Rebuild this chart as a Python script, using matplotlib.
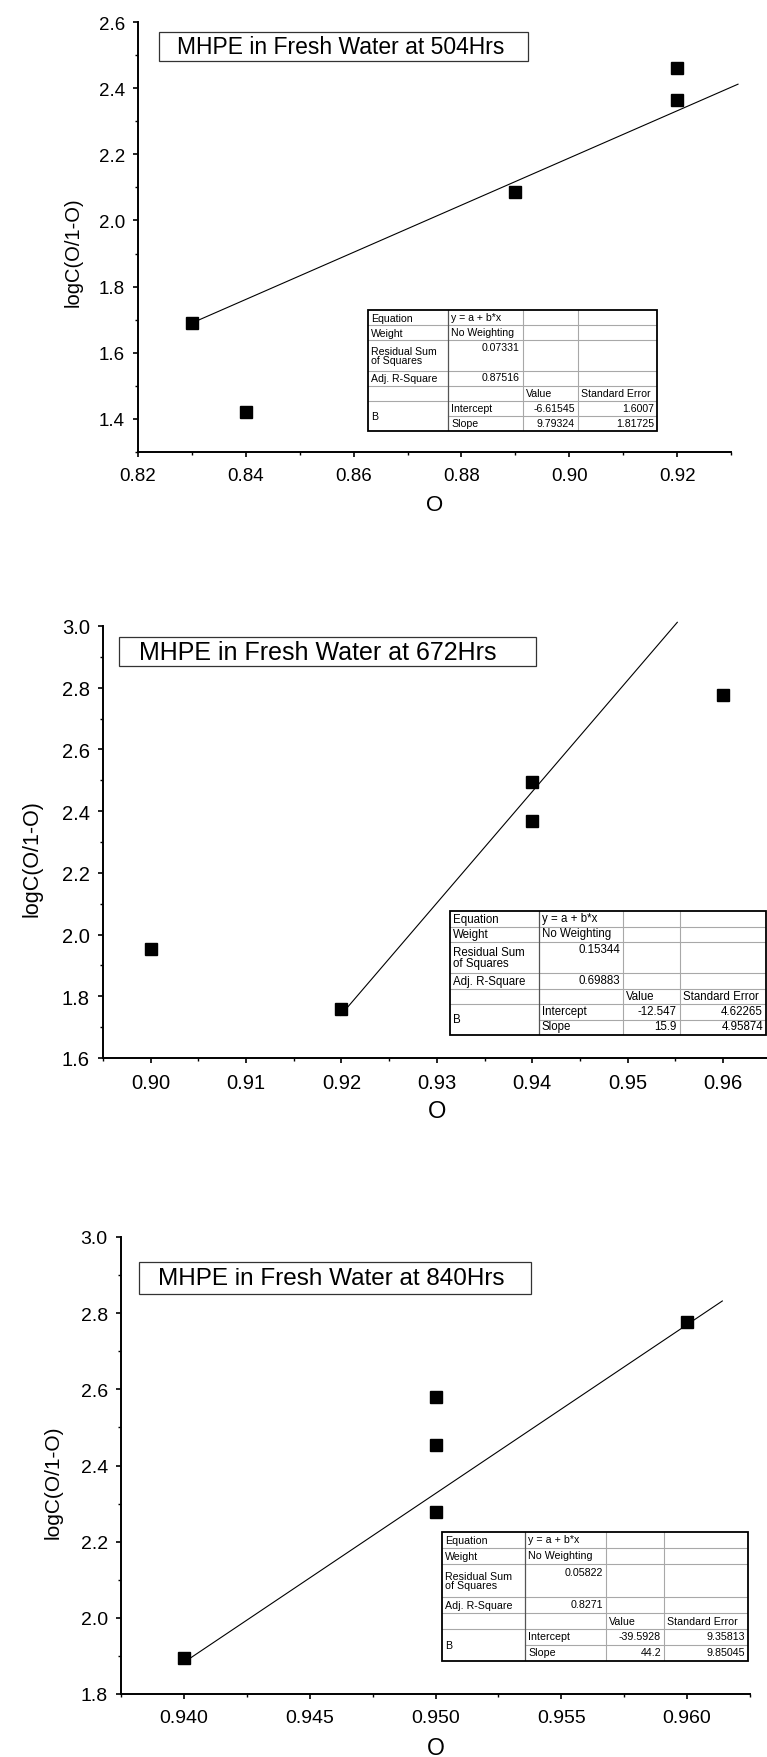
import matplotlib.pyplot as plt
from matplotlib.patches import Rectangle
from matplotlib.ticker import MultipleLocator, FormatStrFormatter

plt.rcParams['font.family'] = ['Liberation Sans', 'DejaVu Sans']

W, H = 767, 1758

# --- data ---
titles = ['MHPE in Fresh Water at 504Hrs',
          'MHPE in Fresh Water at 672Hrs',
          'MHPE in Fresh Water at 840Hrs']

x_504 = [0.83, 0.84, 0.89, 0.92, 0.92]
y_504 = [1.69, 1.42, 2.085, 2.46, 2.365]
fit_x_504 = [0.83, 0.9313]
fit_y_504 = [1.69, 2.412]

x_672 = [0.90, 0.92, 0.94, 0.94, 0.96]
y_672 = [1.953, 1.758, 2.494, 2.369, 2.778]
fit_x_672 = [0.9199, 0.9552]
fit_y_672 = [1.738, 3.012]

x_840 = [0.94, 0.95, 0.95, 0.95, 0.96]
y_840 = [1.894, 2.58, 2.455, 2.279, 2.778]
fit_x_840 = [0.940, 0.9614]
fit_y_840 = [1.883, 2.832]

# fit tables
row_names = ['Equation', 'Weight', 'Residual Sum\nof Squares', 'Adj. R-Square']
par_names = ['Intercept', 'Slope']
par_head = ['Value', 'Standard Error']
stats_504 = ['y = a + b*x', 'No Weighting', '0.07331', '0.87516']
stats_672 = ['y = a + b*x', 'No Weighting', '0.15344', '0.69883']
stats_840 = ['y = a + b*x', 'No Weighting', '0.05822', '0.8271']
pars_504 = [['-6.61545', '1.6007'], ['9.79324', '1.81725']]
pars_672 = [['-12.547', '4.62265'], ['15.9', '4.95874']]
pars_840 = [['-39.5928', '9.35813'], ['44.2', '9.85045']]


fig = plt.figure(figsize=(W / 100, H / 100), dpi=100)


def px_axes(x0, y0, x1, y1):
    return fig.add_axes([x0 / W, 1 - y1 / H, (x1 - x0) / W, (y1 - y0) / H])


def panel(rect, x, y, fx, fy, xlim, ylim, xmaj, xmin, xfmt, fs, title, box, tpos, tfs, ylab, xlab_y):
    ax = px_axes(*rect)
    ax.set_facecolor('none')
    ax.plot(fx, fy, color='black', lw=0.8, clip_on=False, zorder=2)
    ax.plot(x, y, 's', color='black', ms=8, clip_on=False, zorder=3)
    ax.set_xlim(*xlim)
    ax.set_ylim(*ylim)
    ax.xaxis.set_major_locator(MultipleLocator(xmaj))
    ax.xaxis.set_minor_locator(MultipleLocator(xmin))
    ax.yaxis.set_major_locator(MultipleLocator(0.2))
    ax.yaxis.set_minor_locator(MultipleLocator(0.1))
    ax.xaxis.set_major_formatter(FormatStrFormatter(xfmt))
    ax.yaxis.set_major_formatter(FormatStrFormatter('%.1f'))
    for s in ['top', 'right']:
        ax.spines[s].set_visible(False)
    for s in ['left', 'bottom']:
        ax.spines[s].set_linewidth(1.4)
    ax.tick_params(which='major', direction='out', length=3.5, width=1.2, labelsize=fs)
    ax.tick_params(which='minor', direction='out', length=2.5, width=1.0)
    ax.tick_params(axis='x', which='major', pad=7)
    ax.tick_params(axis='y', which='major', pad=6)
    ax.set_ylabel('logC(O/1-O)', fontsize=fs + 1)
    ax.yaxis.set_label_coords(ylab[0], ylab[1])
    ax.set_xlabel('O', fontsize=fs + 2.5)
    ax.xaxis.set_label_coords(0.5, xlab_y)
    ax.xaxis.label.set_verticalalignment('center')
    ax.yaxis.label.set_verticalalignment('center')

    bx0, by0, bx1, by1 = box
    fig.add_artist(Rectangle((bx0 / W, 1 - by1 / H), (bx1 - bx0) / W, (by1 - by0) / H,
                             transform=fig.transFigure, fill=False, ec='#333333', lw=0.9))
    fig.text(tpos[0] / W, 1 - tpos[1] / H, title, fontsize=tfs, ha='left', va='center')
    return ax


def fit_table(rect, cols, stats, pars, fs):
    x0, y0, x1, y1 = rect
    tax = px_axes(x0, y0, x1, y1)
    tax.set_xlim(x0, x1)
    tax.set_ylim(8, 0)
    tax.axis('off')
    c1, c2, c3 = cols
    tax.add_patch(Rectangle((x0, 0), x1 - x0, 8, fc='white', ec='none', zorder=0))
    grey = '#a8a8a8'
    for r in [1, 2, 4, 5, 6]:
        tax.plot([x0, x1], [r, r], color=grey, lw=0.8, zorder=1)
    tax.plot([c1, x1], [7, 7], color=grey, lw=0.8, zorder=1)
    for c in [c2, c3]:
        tax.plot([c, c], [0, 8], color=grey, lw=0.8, zorder=1)
    tax.plot([c1, c1], [0, 8], color='#555555', lw=0.9, zorder=1)
    tax.add_patch(Rectangle((x0, 0), x1 - x0, 8, fill=False, ec='black', lw=1.3,
                            zorder=3, clip_on=False))

    p = 3
    rows_y = [0.5, 1.5, 3.0, 4.5]
    for name, yy in zip(row_names, rows_y):
        tax.text(x0 + p, yy, name, fontsize=fs, ha='left', va='center', linespacing=0.95)
    tax.text(c1 + p, 0.45, stats[0], fontsize=fs, ha='left', va='center')
    tax.text(c1 + p, 1.45, stats[1], fontsize=fs, ha='left', va='center')
    tax.text(c2 - p, 2.45, stats[2], fontsize=fs, ha='right', va='center')
    tax.text(c2 - p, 4.45, stats[3], fontsize=fs, ha='right', va='center')
    tax.text(c2 + p, 5.5, par_head[0], fontsize=fs, ha='left', va='center')
    tax.text(c3 + p, 5.5, par_head[1], fontsize=fs, ha='left', va='center')
    tax.text(x0 + p, 7.0, 'B', fontsize=fs, ha='left', va='center')
    for i, (name, vals) in enumerate(zip(par_names, pars)):
        yy = 6.45 + i
        tax.text(c1 + p, yy, name, fontsize=fs, ha='left', va='center')
        tax.text(c3 - p, yy, vals[0], fontsize=fs, ha='right', va='center')
        tax.text(x1 - p, yy, vals[1], fontsize=fs, ha='right', va='center')


panel((138, 23, 731, 453), x_504, y_504, fit_x_504, fit_y_504,
      (0.82, 0.93), (1.3, 2.6), 0.02, 0.01, '%.2f', 13.5,
      titles[0], (159, 33, 528, 62), (177, 47.5), 16.5, (-0.110, 0.467), -0.121)
fit_table((368, 311, 657, 432), (448, 523, 578), stats_504, pars_504, 7.6)

panel((103, 627, 770.8, 1059), x_672, y_672, fit_x_672, fit_y_672,
      (0.895, 0.965), (1.6, 3.0), 0.01, 0.005, '%.2f', 14.5,
      titles[1], (119, 638, 536, 667), (139.4, 652.5), 18, (-0.106, 0.465), -0.123)
fit_table((450, 912, 766, 1036), (539, 623, 680), stats_672, pars_672, 8.3)

panel((121, 1238, 750, 1695), x_840, y_840, fit_x_840, fit_y_840,
      (0.9375, 0.9625), (1.8, 3.0), 0.005, 0.0025, '%.3f', 14,
      titles[2], (139, 1263, 531, 1295), (157.5, 1279), 17.5, (-0.108, 0.466), -0.117)
fit_table((442, 1533, 748, 1662), (525, 606, 664), stats_840, pars_840, 7.7)

fig.savefig('out.png', dpi=100)
